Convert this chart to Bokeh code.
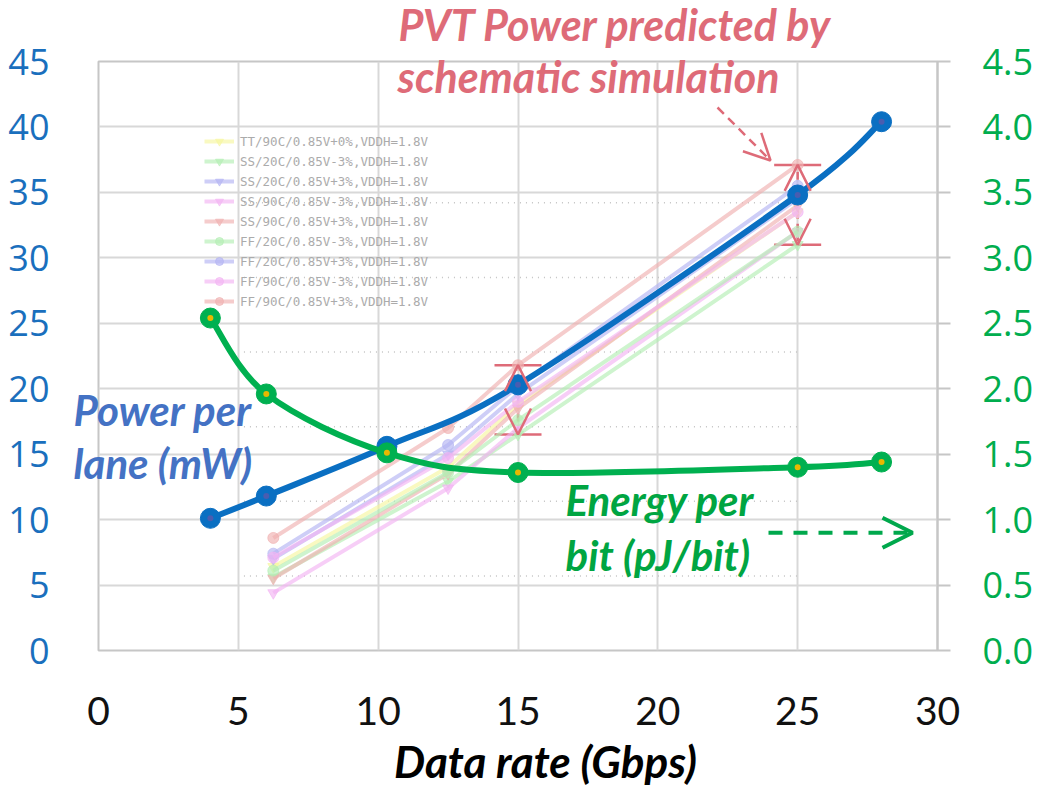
from bokeh.plotting import figure
from bokeh.models import (Range1d, LinearAxis, FixedTicker, NumeralTickFormatter,
                          Arrow, OpenHead, TeeHead, Whisker, ColumnDataSource, Legend, LegendItem)
from bokeh.core.properties import value
from bokeh.embed import file_html
from bokeh.resources import INLINE

# ---------------- data ----------------
data_rate = [4, 6, 10.3125, 15, 25, 28]              # Gbps
power_mw = [10.1, 11.8, 15.6, 20.3, 34.8, 40.4]       # Power per lane (mW)
energy_pj = [2.54, 1.96, 1.51, 1.36, 1.40, 1.44]      # Energy per bit (pJ/bit)

pvt_rate = [6.25, 12.5, 15, 25]
pvt_labels = [
    "TT/90C/0.85V+0%,VDDH=1.8V",
    "SS/20C/0.85V-3%,VDDH=1.8V",
    "SS/20C/0.85V+3%,VDDH=1.8V",
    "SS/90C/0.85V-3%,VDDH=1.8V",
    "SS/90C/0.85V+3%,VDDH=1.8V",
    "FF/20C/0.85V-3%,VDDH=1.8V",
    "FF/20C/0.85V+3%,VDDH=1.8V",
    "FF/90C/0.85V-3%,VDDH=1.8V",
    "FF/90C/0.85V+3%,VDDH=1.8V",
]
pvt_power = [
    [6.4, 14.0, 18.8, 33.5],
    [5.6, 12.9, 16.5, 31.0],
    [7.0, 15.0, 19.6, 34.5],
    [4.4, 12.4, 17.0, 32.0],
    [5.5, 13.5, 18.5, 34.0],
    [6.1, 13.6, 17.6, 32.0],
    [7.4, 15.7, 20.2, 35.5],
    [7.1, 14.7, 19.0, 33.5],
    [8.6, 17.0, 21.8, 37.1],
]
pvt_colors = ["#f6f6a0", "#b4eeb4", "#b4b4f2", "#f2b4f2", "#f0b0b0",
              "#b4eeb4", "#b4b4f2", "#f2b4f2", "#f0b0b0"]
pvt_markers = ["inverted_triangle"] * 5 + ["circle"] * 4
underlay_levels = [5.7, 11.4, 17.1, 22.8, 28.5, 34.2]   # dotted grid of the pasted PVT chart
underlay_span = [5.2, 25.0]

left_ticks = list(range(0, 46, 5))
right_ticks = [i * 0.5 for i in range(10)]
x_ticks = list(range(0, 31, 5))

# ---------------- geometry helpers ----------------
X0, X1, Y0, Y1 = 98, 937, 650, 61
XS = (X1 - X0) / 30.0
YS = (Y0 - Y1) / 45.0
def dx(px):
    return (px - X0) / XS
def dy(py):
    return (Y0 - py) / YS

BLUE = "#0a6fc2"
GREEN = "#00b050"
RED = "#de6b78"
GRID = "#d8d8d8"

p = figure(width=1040, height=785, x_range=Range1d(0, 30), y_range=Range1d(0, 45),
           output_backend="svg", toolbar_location=None,
           min_border_left=X0, min_border_right=1040 - X1,
           min_border_top=Y1, min_border_bottom=785 - Y0)
p.extra_y_ranges = {"right": Range1d(0, 4.5)}
p.background_fill_color = "white"
p.border_fill_color = "white"
p.outline_line_color = "#c6c6c6"
p.outline_line_width = 2

# axes
p.xaxis.ticker = FixedTicker(ticks=x_ticks)
p.yaxis.ticker = FixedTicker(ticks=left_ticks)
for ax in (p.xaxis[0], p.yaxis[0]):
    ax.axis_line_color = None
    ax.major_tick_line_color = None
    ax.minor_tick_line_color = None
    ax.major_label_standoff = 43
p.xaxis.major_label_standoff = 40
p.xaxis.major_label_text_font = "Lato"
p.xaxis.major_label_text_font_size = "39px"
p.xaxis.major_label_text_color = "#111111"
p.yaxis.major_label_text_font = "Open Sans"
p.yaxis.major_label_text_font_size = "36px"
p.yaxis.major_label_text_color = "#1a6fbd"

rax = LinearAxis(y_range_name="right", ticker=FixedTicker(ticks=right_ticks),
                 formatter=NumeralTickFormatter(format="0.0"))
rax.axis_line_color = "#c6c6c6"
rax.axis_line_width = 2
rax.major_tick_line_color = "#c6c6c6"
rax.major_tick_line_width = 2
rax.major_tick_out = 13
rax.major_tick_in = 0
rax.minor_tick_line_color = None
rax.major_label_standoff = 32
rax.major_label_text_font = "Open Sans"
rax.major_label_text_font_size = "36px"
rax.major_label_text_color = "#00ad4e"
p.add_layout(rax, "right")

p.xgrid.ticker = FixedTicker(ticks=x_ticks)
p.ygrid.ticker = FixedTicker(ticks=left_ticks)
p.grid.grid_line_color = GRID
p.grid.grid_line_width = 2

# dotted grid of the underlying PVT plot
for lv in underlay_levels:
    p.line(underlay_span, [lv, lv], line_color="#c4c4c4", line_width=1.5, line_dash="1 5")

# PVT simulation lines
items = []
for lab_, vals, col, mk in zip(pvt_labels, pvt_power, pvt_colors, pvt_markers):
    r1 = p.line(pvt_rate, vals, line_color=col, line_width=4, line_alpha=0.65)
    r2 = p.scatter(pvt_rate, vals, marker=mk, size=11, fill_color=col, line_color=col, alpha=0.65)
    items.append(LegendItem(label=lab_, renderers=[r1, r2]))
leg = Legend(items=items, location=(106, 339), orientation="vertical",
             label_text_font="DejaVu Sans Mono", label_text_font_size="12.5px",
             label_text_color="#ababab", label_height=20, glyph_height=20, glyph_width=30,
             label_standoff=6, spacing=0, padding=0, margin=0,
             background_fill_alpha=0, border_line_alpha=0)
p.add_layout(leg, "center")

# smoothed curves (Catmull-Rom as cubic Bezier, computed from the data points)
def smooth(xs, ys):
    n = len(xs)
    d = dict(x0=[], y0=[], x1=[], y1=[], cx0=[], cy0=[], cx1=[], cy1=[])
    for i in range(n - 1):
        a = max(i - 1, 0)
        b = min(i + 2, n - 1)
        d["x0"].append(xs[i]); d["y0"].append(ys[i])
        d["x1"].append(xs[i + 1]); d["y1"].append(ys[i + 1])
        d["cx0"].append(xs[i] + (xs[i + 1] - xs[a]) / 6.0)
        d["cy0"].append(ys[i] + (ys[i + 1] - ys[a]) / 6.0)
        d["cx1"].append(xs[i + 1] - (xs[b] - xs[i]) / 6.0)
        d["cy1"].append(ys[i + 1] - (ys[b] - ys[i]) / 6.0)
    return ColumnDataSource(d)

p.bezier(x0="x0", y0="y0", x1="x1", y1="y1", cx0="cx0", cy0="cy0", cx1="cx1", cy1="cy1",
         source=smooth(data_rate, power_mw), line_color=BLUE, line_width=6, line_cap="round")
p.scatter(data_rate, power_mw, size=20, fill_color=BLUE, line_color=BLUE)
p.scatter(data_rate, power_mw, size=6, fill_color="#4a5db0", line_color=None)

p.bezier(x0="x0", y0="y0", x1="x1", y1="y1", cx0="cx0", cy0="cy0", cx1="cx1", cy1="cy1",
         source=smooth(data_rate, energy_pj), y_range_name="right",
         line_color=GREEN, line_width=6, line_cap="round")
p.scatter(data_rate, energy_pj, y_range_name="right", size=20, fill_color=GREEN, line_color=GREEN)
p.scatter(data_rate, energy_pj, y_range_name="right", size=6, fill_color="#e8b800", line_color=None)

# PVT spread arrows (derived from the PVT data)
spread_x = [15, 25]
lo, hi = [], []
for xv in spread_x:
    k = pvt_rate.index(xv)
    col = [s[k] for s in pvt_power]
    lo.append(min(col)); hi.append(max(col))
spread = ColumnDataSource(dict(base=spread_x, lower=lo, upper=hi))
p.add_layout(Whisker(source=spread, base="base", lower="lower", upper="upper",
                     dimension="height", line_color=RED, line_width=2.5, line_dash="8 5",
                     upper_head=TeeHead(size=47, line_color=RED, line_width=2.5),
                     lower_head=TeeHead(size=47, line_color=RED, line_width=2.5)))
p.add_layout(Arrow(source=spread, x_start="base", y_start="lower", x_end="base", y_end="upper",
                   line_alpha=0,
                   start=OpenHead(size=26, line_color=RED, line_width=2.5),
                   end=OpenHead(size=26, line_color=RED, line_width=2.5)))

# pointer arrows
p.add_layout(Arrow(x_start=dx(717), y_start=dy(107), x_end=dx(770), y_end=dy(160),
                   line_color=RED, line_width=2.5, line_dash="9 6",
                   end=OpenHead(size=26, line_color=RED, line_width=2.5)))
p.add_layout(Arrow(x_start=dx(768), y_start=0.9, x_end=dx(912), y_end=0.9, y_range_name="right",
                   line_color="#00a84c", line_width=4, line_dash="14 11",
                   end=OpenHead(size=30, line_color="#00a84c", line_width=4)))

# texts: text glyphs on the overlay level (not clipped to the frame)
BASE_SHIFT = 16   # glyph text sits lower than the nominal baseline
def lab(px, py, txt, color, size, align="left"):
    p.text(x=[dx(px)], y=[dy(py - BASE_SHIFT)], text=[txt], text_color=color,
           text_font=value("Lato"), text_font_style="bold italic", text_font_size=value(size),
           text_align=align, text_baseline="alphabetic", level="overlay")

lab(398, 40, "PVT Power predicted by", RED, "43px")
lab(397, 92, "schematic simulation", RED, "43px")
lab(73, 425, "Power per", "#4472c4", "42px")
lab(73, 478, "lane (mW)", "#4472c4", "42px")
lab(565, 515, "Energy per", "#00a542", "42px")
lab(565, 570, "bit (pJ/bit)", "#00a542", "42px")
lab(545, 776, "Data rate (Gbps)", "#000000", "44px", align="center")

open("out.html", "w").write(file_html(p, INLINE))
